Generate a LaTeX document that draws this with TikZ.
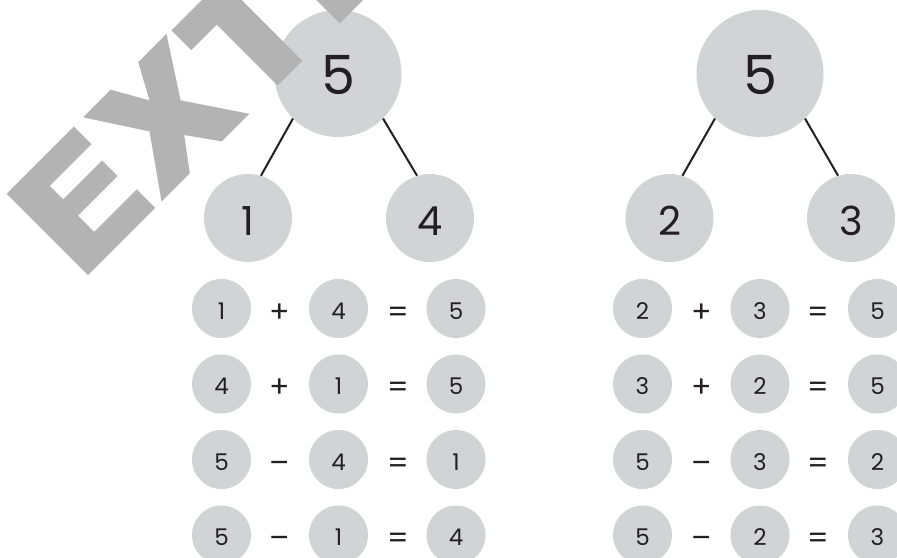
\documentclass[tikz,border=0pt]{standalone}
\usepackage{fontspec}
\setmainfont{Poppins}
\definecolor{cfill}{HTML}{D1D3D4}
\definecolor{wm}{HTML}{B3B3B3}
\definecolor{ink}{HTML}{231F20}
\tikzset{
  bigc/.style={circle, fill=cfill, inner sep=0pt, minimum size=127pt, text=ink,
    font=\fontsize{54}{54}\selectfont, text height=41.8pt, text depth=0pt},
  midc/.style={circle, fill=cfill, inner sep=0pt, minimum size=88pt, text=ink,
    font=\fontsize{40}{40}\selectfont, text height=34pt, text depth=0pt},
  smallc/.style={circle, fill=cfill, inner sep=0pt, minimum size=59pt, text=ink,
    font=\fontsize{23}{23}\selectfont, text height=21pt, text depth=0pt},
  opn/.style={inner sep=0pt, text=ink,
    font=\fontsize{30}{30}\selectfont, text height=27pt, text depth=0pt},
  conn/.style={draw=ink, line width=2pt},
  wmark/.style={fill=wm, draw=none}
}
\begin{document}
\begin{tikzpicture}[x=1pt,y=-1pt]
\useasboundingbox (0,0) rectangle (897,557);
\clip (0,0) rectangle (897,557);
% left tree
\node[bigc] (L0) at (338,73.5) {5};
\node[midc] (L1) at (248,218) {1};
\node[midc] (L2) at (430,218) {4};
\draw[conn] (L0.225) -- (L1.73);
\draw[conn] (L0.315) -- (L2.107);
% right tree
\node[bigc] (R0) at (760,73.5) {5};
\node[midc] (R1) at (669.5,218) {2};
\node[midc] (R2) at (851,218) {3};
\draw[conn] (R0.225) -- (R1.73);
\draw[conn] (R0.315) -- (R2.107);
% left equations
\foreach \y/\p/\o/\q/\r [count=\i] in {308.5/1/+/4/5, 384/4/+/1/5, 459.5/5/–/4/1, 535/5/–/1/4} {
  \node[smallc] (La\i) at (221.5,\y) {\p};
  \node[opn]    (Lo\i) at (280,\y) {\o};
  \node[smallc] (Lb\i) at (338.5,\y) {\q};
  \node[opn]    (Le\i) at (398,\y) {=};
  \node[smallc] (Lc\i) at (456,\y) {\r};
}
% right equations
\foreach \y/\p/\o/\q/\r [count=\i] in {308.5/2/+/3/5, 384/3/+/2/5, 459.5/5/–/3/2, 535/5/–/2/3} {
  \node[smallc] (Ra\i) at (642.5,\y) {\p};
  \node[opn]    (Ro\i) at (702,\y) {\o};
  \node[smallc] (Rb\i) at (760,\y) {\q};
  \node[opn]    (Re\i) at (818,\y) {=};
  \node[smallc] (Rc\i) at (877.5,\y) {\r};
}
% watermark
\begin{scope}[shift={(88,275)}, rotate=45]
  \fill[wmark] (0pt,0pt) -- (0pt,115pt) -- (95pt,115pt) -- (95pt,90pt) -- (36pt,90pt) -- (36pt,71pt)
    -- (91pt,71pt) -- (91pt,49pt) -- (35pt,49pt) -- (35pt,26pt) -- (95pt,26pt) -- (95pt,0pt) -- cycle;
  \fill[wmark] (104pt,0pt) -- (145pt,58pt) -- (108pt,115pt) -- (147pt,115pt) -- (167pt,80pt)
    -- (186pt,115pt) -- (226pt,115pt) -- (189pt,58pt) -- (228pt,0pt) -- (189pt,0pt)
    -- (167pt,31pt) -- (144pt,0pt) -- cycle;
  \fill[wmark] (268pt,0pt) -- (268pt,86pt) -- (232pt,86pt) -- (232pt,114pt) -- (339pt,114pt)
    -- (339pt,86pt) -- (303pt,86pt) -- (303pt,0pt) -- cycle;
  \fill[wmark] (356pt,0pt) rectangle (391pt,115pt);
\end{scope}
\end{tikzpicture}
\end{document}
